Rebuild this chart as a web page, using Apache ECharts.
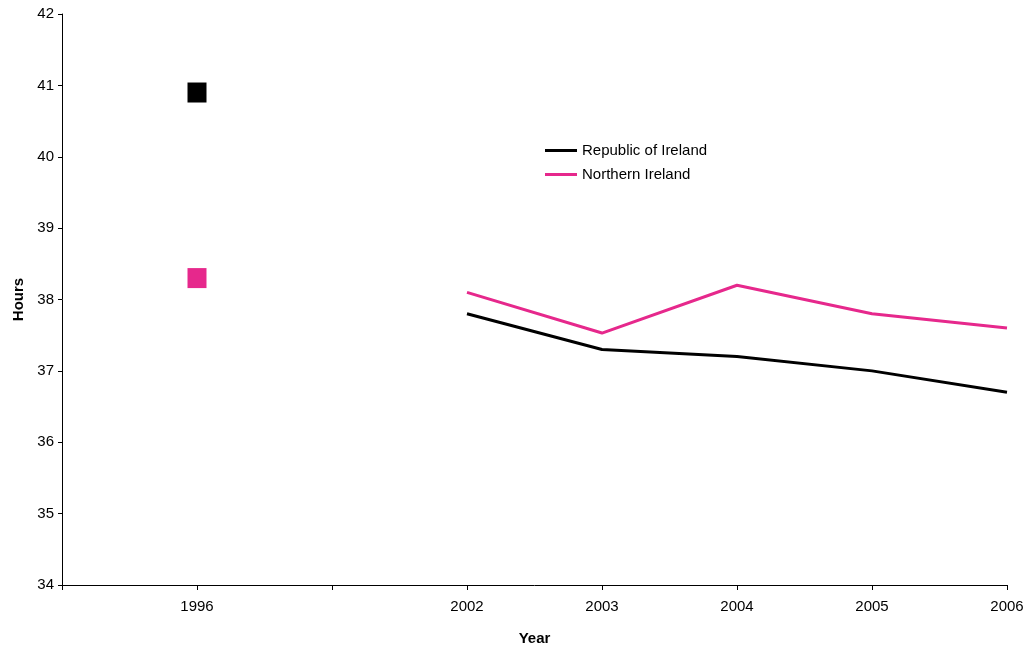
<!DOCTYPE html>
<html>
<head>
<meta charset="utf-8">
<script src="https://cdn.jsdelivr.net/npm/echarts@6/dist/echarts.min.js"></script>
<style>
  html, body { margin: 0; padding: 0; background: #fff; }
  #chart { width: 1027px; height: 650px; }
</style>
</head>
<body>
<div id="chart"></div>
<script>
// categories: a blank slot before 1996 and a blank one between 1996 and 2002
const years = ['', '1996', '', '2002', '2003', '2004', '2005', '2006']
const republicHours = [null, 40.9, null, 37.8, 37.3, 37.2, 37.0, 36.7]
const northernHours = [null, 38.3, null, 38.1, 37.53, 38.2, 37.8, 37.6]
const seriesNames = ['Republic of Ireland', 'Northern Ireland']
const seriesColors = ['#000000', '#E6288C']

const font = 'Liberation Sans, Arial, sans-serif'

// the single 1996 value is drawn as a square marker, the rest as a plain line
const toItems = values => values.map((v, i) => (
    i === 1 ? { value: v, symbol: 'rect', symbolSize: [19, 20] } : v
))

const chart = echarts.init(document.getElementById('chart'))

const option = {
    animation: false,
    textStyle: { fontFamily: font },
    grid: {
        left: 62,
        right: 20,
        top: 14,
        bottom: 65,
        containLabel: false,
        outerBoundsMode: 'none'
    },
    legend: {
        orient: 'vertical',
        left: 540,
        top: 138,
        icon: 'rect',
        itemWidth: 32,
        itemHeight: 3,
        itemGap: 9,
        textStyle: { fontSize: 15, color: '#000', fontFamily: font },
        data: seriesNames
    },
    xAxis: {
        type: 'category',
        data: years,
        boundaryGap: false,
        name: 'Year',
        nameLocation: 'middle',
        nameGap: 46,
        nameTextStyle: { fontSize: 15, fontWeight: 'bold', color: '#000', fontFamily: font },
        axisLine: { lineStyle: { color: '#000', width: 1 } },
        axisTick: { show: true, length: 5, inside: false, alignWithLabel: true, interval: 0, lineStyle: { color: '#000' } },
        axisLabel: { interval: 0, margin: 14, fontSize: 15, color: '#000', fontFamily: font },
        splitLine: { show: false }
    },
    yAxis: {
        type: 'value',
        min: 34,
        max: 42,
        interval: 1,
        name: 'Hours',
        nameLocation: 'middle',
        nameGap: 36,
        nameRotate: 90,
        nameTextStyle: { fontSize: 15, fontWeight: 'bold', color: '#000', fontFamily: font },
        axisLine: { show: true, lineStyle: { color: '#000', width: 1 } },
        axisTick: { show: true, length: 4, lineStyle: { color: '#000' } },
        axisLabel: { margin: 8, fontSize: 15, color: '#000', fontFamily: font },
        splitLine: { show: false }
    },
    series: [
        {
            name: seriesNames[0],
            type: 'line',
            data: toItems(republicHours),
            symbol: 'none',
            connectNulls: false,
            color: seriesColors[0],
            lineStyle: { width: 3, color: seriesColors[0] },
            itemStyle: { color: seriesColors[0] }
        },
        {
            name: seriesNames[1],
            type: 'line',
            data: toItems(northernHours),
            symbol: 'none',
            connectNulls: false,
            color: seriesColors[1],
            lineStyle: { width: 3, color: seriesColors[1] },
            itemStyle: { color: seriesColors[1] }
        }
    ]
}

chart.setOption(option)
</script>
</body>
</html>
